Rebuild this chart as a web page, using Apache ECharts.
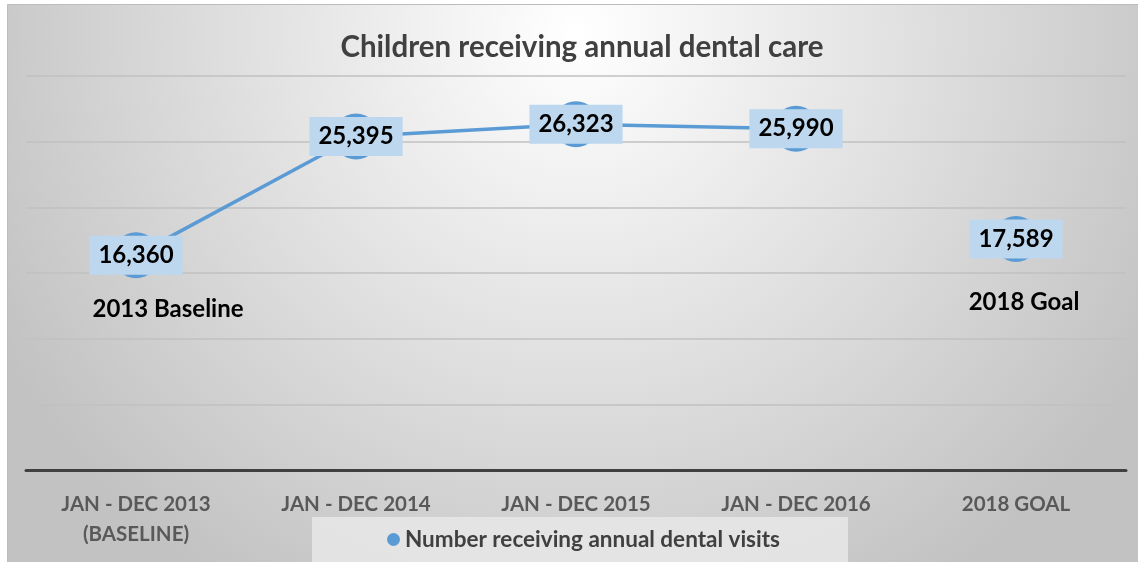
<!DOCTYPE html>
<html>
<head>
<meta charset="utf-8">
<script src="https://cdn.jsdelivr.net/npm/echarts@6/dist/echarts.min.js"></script>
<style>html,body{margin:0;padding:0;background:#fff;}#c{width:1138px;height:562px;}</style>
</head>
<body>
<div id="c"></div>
<script>
var categories = ['JAN - DEC 2013\n(BASELINE)', 'JAN - DEC 2014', 'JAN - DEC 2015', 'JAN - DEC 2016', '2018 GOAL'];
var actualValues = [16360, 25395, 26323, 25990, null];
var goalValues = [null, null, null, null, 17589];
var seriesName = 'Number receiving annual dental visits';
var titleText = 'Children receiving annual dental care';
var baselineNote = { text: '2013 Baseline', category: 0, value: 16360 };
var goalNote = { text: '2018 Goal', category: 4, value: 17589 };

var FONT = 'Lato, "Open Sans", sans-serif';
var chart = echarts.init(document.getElementById('c'));

var labelStyle = {
  show: true,
  position: 'inside',
  formatter: function (p) { return p.value == null ? '' : p.value.toLocaleString('en-US'); },
  backgroundColor: '#bdd7ee',
  color: '#000',
  fontFamily: FONT,
  fontWeight: 'bold',
  fontSize: 24,
  padding: [8, 9, 7, 9]
};

function note(n, offset) {
  return {
    symbol: 'circle', symbolSize: 0,
    data: [{ coord: [n.category, n.value], value: n.text }],
    label: {
      show: true, position: 'inside', offset: offset,
      formatter: function (p) { return p.value; },
      color: '#000', fontFamily: FONT, fontWeight: 'bold', fontSize: 24
    }
  };
}

chart.setOption({
  backgroundColor: '#ffffff',
  graphic: [{
    type: 'rect', z: -10, silent: true,
    shape: { x: 7.5, y: 4.5, width: 1140, height: 570 },
    style: {
      fill: {
        type: 'radial', x: 0.5, y: 0.05, r: 1.15,
        colorStops: [{ offset: 0, color: '#ffffff' }, { offset: 1, color: '#c2c2c2' }]
      },
      stroke: '#bcbcbc', lineWidth: 1
    }
  }],
  title: {
    text: titleText, left: 577, textAlign: 'center', top: 27,
    textStyle: { fontFamily: FONT, fontWeight: 'bold', fontSize: 29.5, color: '#404040' }
  },
  legend: {
    data: [seriesName],
    left: 312, top: 517,
    icon: 'circle', itemWidth: 13, itemHeight: 13, itemGap: 8,
    backgroundColor: 'rgba(232,232,232,0.85)',
    padding: [11, 68, 11, 75],
    textStyle: { fontFamily: FONT, fontWeight: 'bold', fontSize: 22.5, color: '#404040' }
  },
  grid: { left: 26, right: 12, top: 76, bottom: 92 },
  xAxis: {
    type: 'category', data: categories, boundaryGap: true,
    axisLine: { lineStyle: { color: '#404040', width: 3 } },
    axisTick: { show: false },
    axisLabel: { margin: 19, fontFamily: FONT, fontWeight: 'bold', fontSize: 20.5, color: '#595959', lineHeight: 30 }
  },
  yAxis: {
    type: 'value', min: 0, max: 30000, interval: 5000,
    axisLabel: { show: false }, axisLine: { show: false }, axisTick: { show: false },
    splitLine: { lineStyle: { color: '#c0c0c0', width: 1.5 } }
  },
  series: [{
    name: seriesName, type: 'line', data: actualValues,
    symbol: 'circle', symbolSize: 46,
    itemStyle: { color: '#5b9bd5' },
    lineStyle: { color: '#5b9bd5', width: 3.5 },
    label: labelStyle,
    markPoint: note(baselineNote, [32, 54])
  }, {
    name: seriesName, type: 'line', data: goalValues,
    symbol: 'circle', symbolSize: 46,
    itemStyle: { color: '#5b9bd5' },
    lineStyle: { color: '#5b9bd5', width: 3.5 },
    label: labelStyle,
    markPoint: note(goalNote, [8, 63])
  }]
});
</script>
</body>
</html>
